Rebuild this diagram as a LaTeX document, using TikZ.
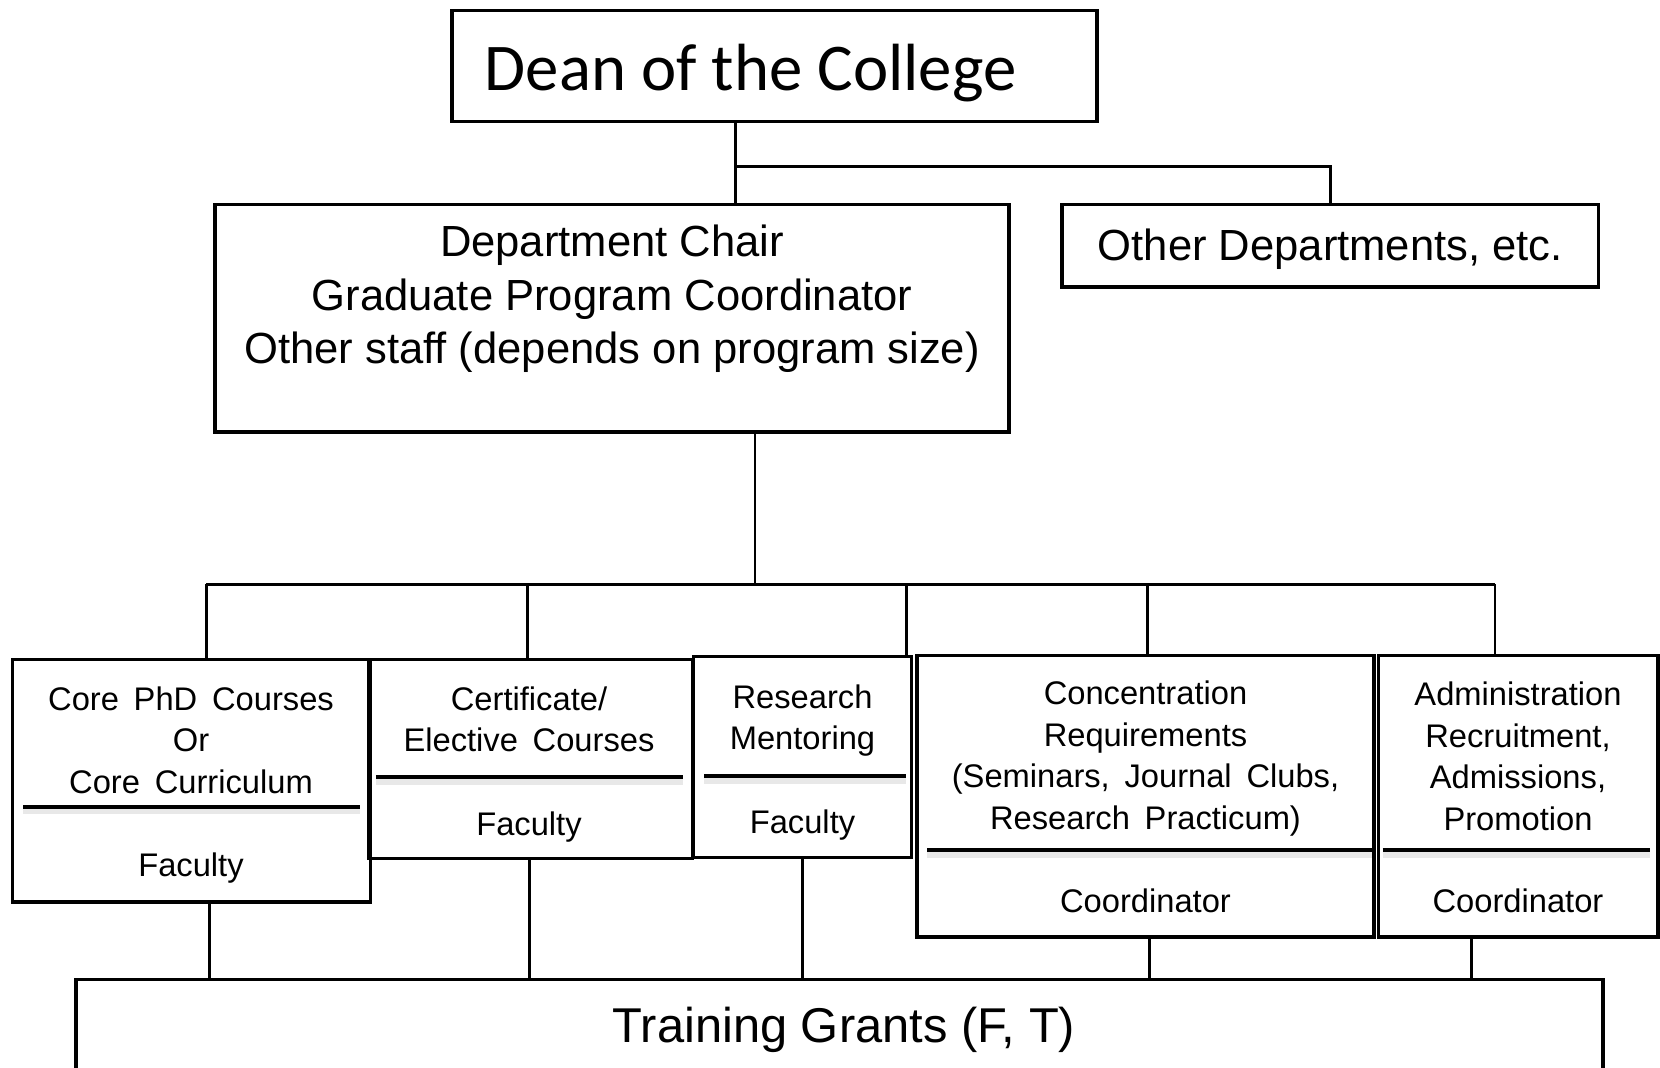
\documentclass[tikz,border=0pt]{standalone}
\usepackage{fontspec}
\setmainfont{Liberation Sans}
\newfontfamily\deanfont{Carlito}
\newcommand\boxfont{\fontsize{9.3}{11.8}\selectfont\spaceskip=4.2pt\relax}
\newcommand\deptfont{\fontsize{12.4}{15.2}\selectfont}

\begin{document}
\begin{tikzpicture}[box/.style={draw, line width=1pt, inner sep=0pt}, link/.style={line width=0.75pt}, sepline/.style={line width=1.2pt}, shade/.style={line width=1.6pt, black!9}, boxtext/.style={align=center, font=\boxfont}]
\useasboundingbox (0,0) rectangle (16.6,-10.67);
\node[box, minimum width=6.45cm, minimum height=1.111cm] (dean) at (7.745,-0.661) {};
\node[anchor=base west, inner sep=0pt, font=\deanfont\fontsize{19}{23}\selectfont] (deantext) at (4.84,-0.90) {Dean of the College};
\node[box, minimum width=7.941cm, minimum height=2.277cm] (dept) at (6.12,-3.182) {};
\node[align=center, font=\deptfont] (depttext) at (6.12,-2.99) {Department Chair\\Graduate Program Coordinator\\Other staff (depends on program size)};
\node[box, minimum width=5.367cm, minimum height=0.826cm] (other) at (13.303,-2.456) {};
\node[font=\deptfont] (othertext) at (13.303,-2.49) {Other Departments, etc.};
\coordinate (split) at (7.358,-1.662);
\draw[link] (dean.south -| split) -- (dept.north -| split);
\draw[link] (split) -| (other.north);
\node[box, minimum width=3.578cm, minimum height=2.424cm] (core) at (1.916,-7.808) {};
\node[box, minimum width=3.24cm, minimum height=1.99cm] (cert) at (5.304,-7.591) {};
\node[box, minimum width=2.181cm, minimum height=2.011cm] (ment) at (8.0245,-7.5695) {};
\node[box, minimum width=4.574cm, minimum height=2.817cm] (conc) at (11.455,-7.9615) {};
\node[box, minimum width=2.795cm, minimum height=2.817cm] (admin) at (15.1815,-7.9615) {};
\node[boxtext] (coretop) at (1.91,-7.40) {Core PhD Courses\\Or\\Core Curriculum};
\node[boxtext] (corefac) at (1.91,-8.68) {Faculty};
\node[boxtext] (certtop) at (5.29,-7.195) {Certificate/\\Elective  Courses};
\node[boxtext] (certfac) at (5.29,-8.27) {Faculty};
\node[boxtext] (menttop) at (8.025,-7.205) {Research\\Mentoring};
\node[boxtext] (mentfac) at (8.025,-8.25) {Faculty};
\node[boxtext] (conctop) at (11.455,-7.585) {Concentration\\Requirements\\(Seminars, Journal Clubs,\\Research Practicum)};
\node[boxtext] (concco) at (11.455,-9.01) {Coordinator};
\node[boxtext] (admintop) at (15.18,-7.565) {Administration\\Recruitment,\\Admissions,\\Promotion};
\node[boxtext] (adminco) at (15.18,-9.01) {Coordinator};
\draw[shade] (0.233,-8.115) -- (3.60,-8.115);
\draw[sepline] (0.233,-8.067) -- (3.60,-8.067);
\draw[shade] (3.758,-7.819) -- (6.829,-7.819);
\draw[sepline] (3.758,-7.771) -- (6.829,-7.771);
\draw[shade] (7.04,-7.808) -- (9.062,-7.808);
\draw[sepline] (7.04,-7.76) -- (9.062,-7.76);
\draw[shade] (9.274,-8.549) -- (13.72,-8.549);
\draw[sepline] (9.274,-8.501) -- (13.72,-8.501);
\draw[shade] (13.827,-8.549) -- (16.495,-8.549);
\draw[sepline] (13.827,-8.501) -- (16.495,-8.501);
\coordinate (hub) at (7.549,-5.844);
\coordinate (bus1) at (2.064,-5.844);
\coordinate (bus2) at (5.272,-5.844);
\coordinate (bus3) at (9.062,-5.844);
\coordinate (bus4) at (11.476,-5.844);
\coordinate (bus5) at (14.949,-5.844);
\draw[link] (dept.south -| hub) -- (hub);
\draw[link] (bus1) -- (bus5);
\draw[link] (bus1) -- (bus1 |- core.north);
\draw[link] (bus2) -- (bus2 |- cert.north);
\draw[link] (bus3) -- (bus3 |- ment.north);
\draw[link] (bus4) -- (bus4 |- conc.north);
\draw[link] (bus5) -- (bus5 |- admin.north);
\node[box, minimum width=15.267cm, minimum height=1.007cm] (grants) at (8.3955,-10.2965) {};
\node[font=\fontsize{13.9}{16.7}\selectfont] (grantstext) at (8.44,-10.30) {Training Grants (F, T)};
\coordinate (g1) at (2.096,-9.5);
\coordinate (g2) at (5.294,-9.5);
\coordinate (g3) at (8.025,-9.5);
\coordinate (g4) at (11.497,-9.5);
\coordinate (g5) at (14.716,-9.5);
\draw[link] (core.south -| g1) -- (grants.north -| g1);
\draw[link] (cert.south -| g2) -- (grants.north -| g2);
\draw[link] (ment.south -| g3) -- (grants.north -| g3);
\draw[link] (conc.south -| g4) -- (grants.north -| g4);
\draw[link] (admin.south -| g5) -- (grants.north -| g5);
\end{tikzpicture}
\end{document}
